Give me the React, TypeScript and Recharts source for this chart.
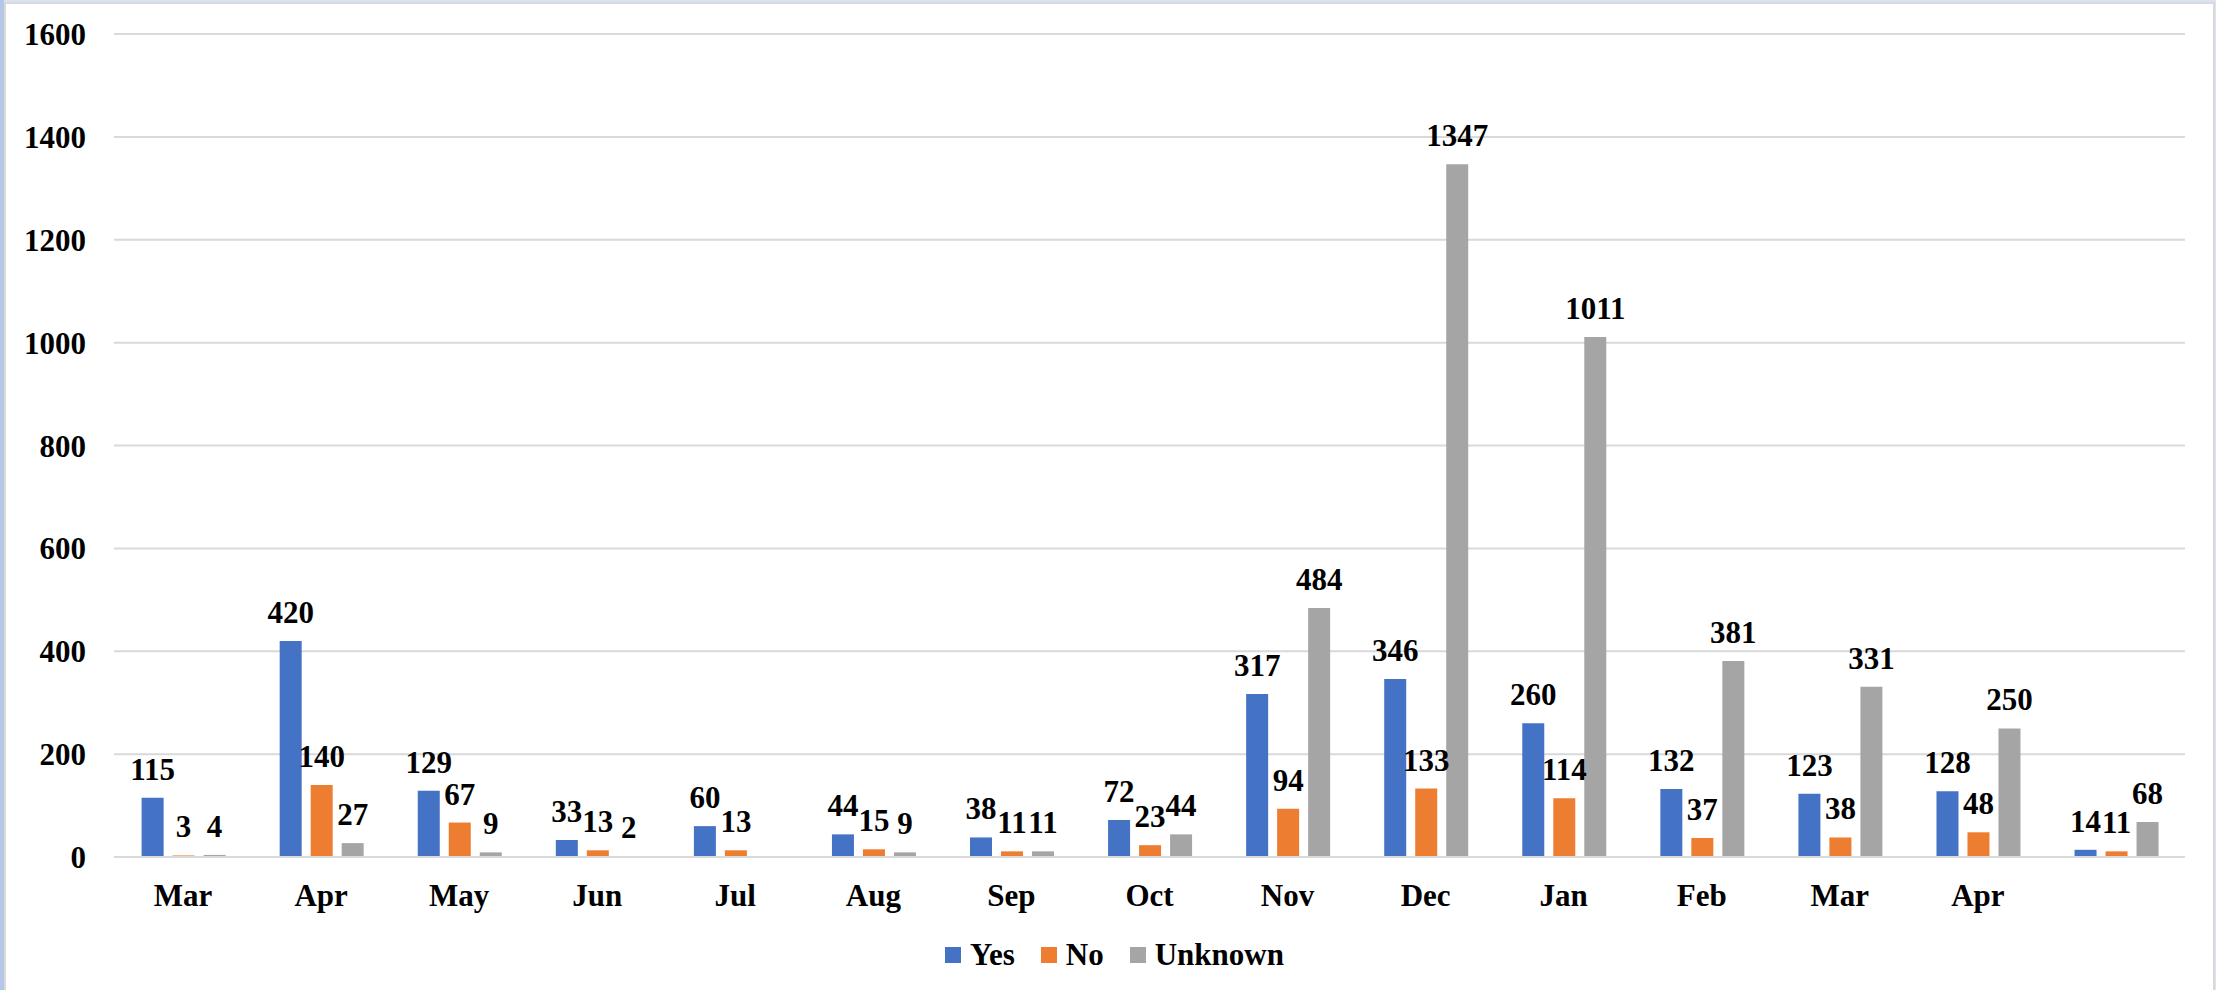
import * as React from 'react';
import {
  BarChart, Bar, XAxis, YAxis, CartesianGrid, Legend, LabelList
} from 'recharts';

// monthly counts, Mar through Apr of the following year, plus one unlabelled group
const months = ['Mar', 'Apr', 'May', 'Jun', 'Jul', 'Aug', 'Sep', 'Oct', 'Nov', 'Dec', 'Jan', 'Feb', 'Mar', 'Apr', ''];
const yesValues = [115, 420, 129, 33, 60, 44, 38, 72, 317, 346, 260, 132, 123, 128, 14];
const noValues = [3, 140, 67, 13, 13, 15, 11, 23, 94, 133, 114, 37, 38, 48, 11];
const unknownValues = [4, 27, 9, 2, null, 9, 11, 44, 484, 1347, 1011, 381, 331, 250, 68];
const yTicks = [0, 200, 400, 600, 800, 1000, 1200, 1400, 1600];

const FONT = '"Liberation Serif", "Times New Roman", serif';

const series = [
  { key: 'yes', name: 'Yes', color: '#4472C4' },
  { key: 'no', name: 'No', color: '#ED7D31' },
  { key: 'unknown', name: 'Unknown', color: '#A5A5A5' },
];

const data = months.map((month, i) => ({
  month,
  yes: yesValues[i],
  no: noValues[i],
  unknown: unknownValues[i],
}));

const labelStyle = { fill: '#000', fontSize: 31, fontWeight: 'bold', fontFamily: FONT };

// legend kept in series order (recharts sorts the payload by name otherwise)
const renderLegend = () => (
  <div style={{ display: 'flex', justifyContent: 'center', alignItems: 'center' }}>
    {series.map((s, i) => (
      <div key={s.key} style={{ display: 'flex', alignItems: 'center', marginRight: i < series.length - 1 ? 26 : 0 }}>
        <span style={{ display: 'inline-block', width: 16, height: 16, background: s.color, marginRight: 9 }} />
        <span style={{ fontFamily: FONT, fontWeight: 'bold', fontSize: 31, color: '#000', lineHeight: '36px' }}>
          {s.name}
        </span>
      </div>
    ))}
  </div>
);

const App = () => {
  return (
    <div style={{ position: 'absolute', left: 0, top: 0, width: 2216, height: 990, background: '#DAE3F3', overflow: 'hidden' }}>
      <div style={{ position: 'absolute', left: 0, top: 0, width: 4, height: 990, background: '#B4C7E7' }} />
      <div style={{ position: 'absolute', left: 4, top: 2, width: 2207, height: 1000, background: '#fff', border: '2px solid #D9D9D9' }} />
      <div style={{ position: 'absolute', left: 0, top: 0 }}>
        <BarChart
          width={2216}
          height={990}
          data={data}
          margin={{ top: 34, right: 31, left: 0, bottom: 73 }}
          barCategoryGap="20%"
          barGap={9}
        >
          <CartesianGrid vertical={false} stroke="#D9D9D9" strokeWidth={2} />
          <XAxis
            dataKey="month"
            interval={0}
            height={60}
            tickLine={false}
            axisLine={{ stroke: '#D9D9D9', strokeWidth: 2 }}
            tick={labelStyle}
            tickMargin={21}
          />
          <YAxis
            domain={[0, 1600]}
            ticks={yTicks}
            width={114}
            tickLine={false}
            axisLine={false}
            tick={labelStyle}
            tickMargin={22}
          />
          <Legend
            verticalAlign="middle"
            align="center"
            layout="horizontal"
            content={renderLegend}
            wrapperStyle={{ top: 937, left: 0, width: 2229 }}
          />
          {series.map((s) => (
            <Bar key={s.key} dataKey={s.key} name={s.name} fill={s.color} isAnimationActive={false}>
              <LabelList dataKey={s.key} position="top" offset={18} style={labelStyle} />
            </Bar>
          ))}
        </BarChart>
      </div>
    </div>
  );
};

export default App;
